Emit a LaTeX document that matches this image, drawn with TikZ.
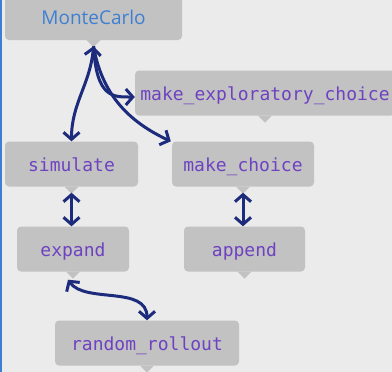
\documentclass[tikz,border=0pt]{standalone}
\usepackage{fontspec}
\usetikzlibrary{arrows.meta}
\newfontfamily\codefont{DejaVu Sans Mono}
\newfontfamily\titlefont{Open Sans}
\definecolor{bggray}{HTML}{EBEBEB}
\definecolor{boxgray}{HTML}{C2C2C2}
\definecolor{fnpurple}{HTML}{6E42C1}
\definecolor{mcblue}{HTML}{3F7FD2}
\definecolor{callnavy}{HTML}{1D2B7C}

\tikzset{
 fnbox/.style={fill=boxgray,rounded corners=4pt,minimum height=45pt,inner sep=0pt,
   text=fnpurple,font=\codefont\fontsize{18}{20}\selectfont,text height=16pt,text depth=1pt},
 call/.style={draw=callnavy,line width=3pt,
   {Straight Barb[length=7pt,width=16pt]}-{Straight Barb[length=7pt,width=16pt]}},
 callone/.style={draw=callnavy,line width=3pt,-{Straight Barb[length=7pt,width=16pt]}},
}

\begin{document}
\begin{tikzpicture}[x=1pt,y=1pt]
 \useasboundingbox (0,0) rectangle (392,-372);
 \clip (0,0) rectangle (392,-372);
 \fill[bggray] (0,0) rectangle (392,-372);
 \fill[mcblue] (0,0) rectangle (2,-372);

 \node[fnbox,minimum width=177pt,text=mcblue,font=\titlefont\fontsize{19}{21}\selectfont,
   text height=12pt,text depth=0pt,minimum height=44pt] (mc) at (93.5,-18) {MonteCarlo};
 \node[fnbox,minimum width=260pt] (mec) at (265,-93) {make\_exploratory\_choice};
 \node[fnbox,minimum width=133pt] (sim) at (71.5,-164) {simulate};
 \node[fnbox,minimum width=142pt] (mch) at (243,-164) {make\_choice};
 \node[fnbox,minimum width=112pt] (exp) at (73,-249) {expand};
 \node[fnbox,minimum width=121pt] (app) at (244.5,-249) {append};
 \node[fnbox,minimum width=184pt] (rr) at (147,-343) {random\_rollout};

 \foreach \n in {mc,mec,sim,mch,exp,app,rr}
  \fill[boxgray] ([xshift=-7pt]\n.south) -- ([xshift=7pt]\n.south) -- ([yshift=-7pt]\n.south) -- cycle;

 \coordinate (mctip) at ([yshift=-6pt]mc.south);
 \coordinate (simtip) at ([yshift=-6pt]sim.south);
 \coordinate (mchtip) at ([yshift=-6pt]mch.south);
 \coordinate (exptip) at ([xshift=-5pt,yshift=-8pt]exp.south);

 \draw[call] (mctip) to[out=-95,in=90] (sim.north);
 \draw[callone] (mctip) .. controls +(3,-52) and +(-22,0) .. ([yshift=-4pt]mec.west);
 \draw[callone] (mctip) to[out=-80,in=155] ([xshift=-1pt]mch.north west);
 \draw[call] (simtip) -- (simtip |- exp.north);
 \draw[call] (mchtip) -- (mchtip |- app.north);
 \draw[call] (exptip) .. controls +(17,-24) and +(0,35) .. (rr.north);
\end{tikzpicture}
\end{document}
